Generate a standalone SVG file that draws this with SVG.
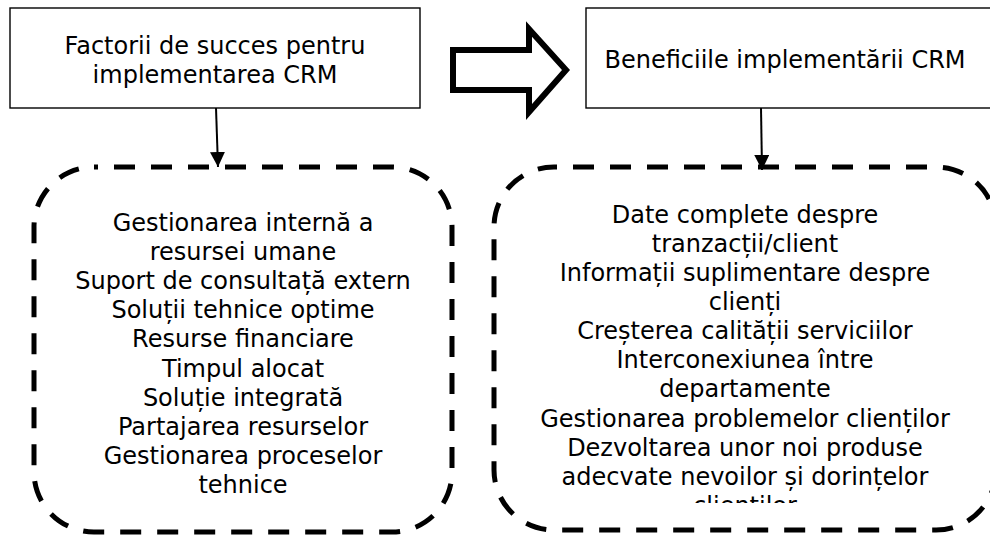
<svg xmlns="http://www.w3.org/2000/svg" width="990" height="537" viewBox="0 0 990 537">
  <defs>
    <style>
      text { font-family: "DejaVu Sans", Verdana, sans-serif; font-size: 24px; fill: #000; text-anchor: middle; }
      .box { fill: #fff; stroke: #000; stroke-width: 1.4; }
      .dashed { fill: none; stroke: #000; stroke-width: 5; stroke-dasharray: 21 16; stroke-dashoffset: 17; }
      .link { stroke: #000; stroke-width: 2; fill: none; }
      .bigarrow { fill: #fff; stroke: #000; stroke-width: 6; stroke-linejoin: miter; }
    </style>
    <marker id="head" viewBox="0 0 10 10" refX="10" refY="5" markerUnits="userSpaceOnUse" markerWidth="15" markerHeight="15" orient="auto">
      <path d="M0,0 L10,5 L0,10 z" fill="#000"/>
    </marker>
    <clipPath id="rightClip">
      <rect x="494" y="167" width="500" height="336"/>
    </clipPath>
  </defs>

  <rect width="990" height="537" fill="#fff"/>

  <!-- header box: success factors -->
  <g id="factors-title">
    <rect class="box" x="10" y="8" width="410" height="100"/>
    <text x="215" y="54">Factorii de succes pentru</text>
    <text x="215" y="83">implementarea CRM</text>
  </g>

  <!-- header box: benefits -->
  <g id="benefits-title">
    <rect class="box" x="586" y="8" width="410" height="100"/>
    <text x="785" y="68">Beneficiile implementării CRM</text>
  </g>

  <!-- hollow block arrow between the headers -->
  <g id="block-arrow">
    <polygon class="bigarrow" points="453,50 529,50 529,29 566,70 529,112 529,90 453,90"/>
  </g>

  <!-- list of success factors -->
  <g id="factors-list">
    <rect class="dashed" x="34" y="167" width="418" height="365" rx="60" ry="60"/>
    <text x="243" y="231">Gestionarea internă a</text>
    <text x="243" y="260">resursei umane</text>
    <text x="243" y="289">Suport de consultață extern</text>
    <text x="243" y="318">Soluții tehnice optime</text>
    <text x="243" y="347">Resurse financiare</text>
    <text x="243" y="376.5">Timpul alocat</text>
    <text x="243" y="406">Soluție integrată</text>
    <text x="243" y="435">Partajarea resurselor</text>
    <text x="243" y="464">Gestionarea proceselor</text>
    <text x="243" y="493">tehnice</text>
  </g>

  <!-- list of benefits -->
  <g id="benefits-list">
    <rect class="dashed" x="494" y="167" width="502" height="363" rx="60" ry="60" style="stroke-dashoffset:18"/>
    <g clip-path="url(#rightClip)">
      <text x="745" y="223">Date complete despre</text>
      <text x="745" y="252">tranzacții/client</text>
      <text x="745" y="281">Informații suplimentare despre</text>
      <text x="745" y="310">clienți</text>
      <text x="745" y="339">Creșterea calității serviciilor</text>
      <text x="745" y="368">Interconexiunea între</text>
      <text x="745" y="397">departamente</text>
      <text x="745" y="426.5">Gestionarea problemelor clienților</text>
      <text x="745" y="456">Dezvoltarea unor noi produse</text>
      <text x="745" y="485">adecvate nevoilor și dorințelor</text>
      <text x="745" y="514">clienților</text>
    </g>
  </g>

  <!-- connectors -->
  <g id="connectors">
    <line class="link" x1="216" y1="108" x2="218" y2="167" marker-end="url(#head)"/>
    <line class="link" x1="761" y1="108" x2="762" y2="170" marker-end="url(#head)"/>
  </g>
</svg>
